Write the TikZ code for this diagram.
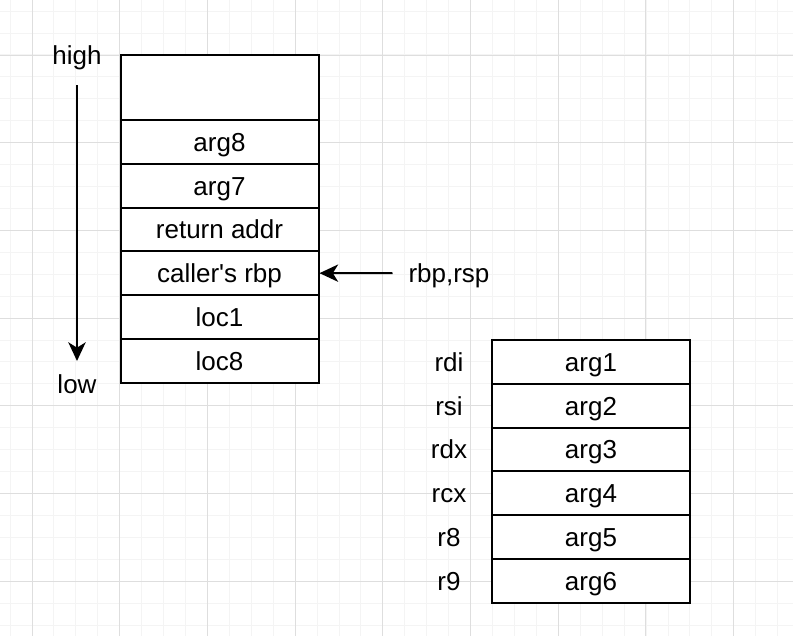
\documentclass[tikz,border=0pt]{standalone}
\usepackage{fontspec}
\setmainfont{Liberation Sans}[Ligatures=TeXReset]
\usepackage{xcolor}
\usetikzlibrary{arrows.meta,positioning}
\definecolor{GridMinor}{RGB}{244, 244, 244}
\definecolor{GridMajor}{RGB}{222, 222, 222}

\begin{document}
\begin{tikzpicture}[
      x=0.75pt, y=-0.75pt,
      every node/.style={font=\fontsize{19.5}{23}\selectfont, align=center, text height=14pt, text depth=0pt},
      cell/.style={rectangle, draw=black, line width=1.5pt, fill=white, minimum width=148.5pt, minimum height=32.85pt, inner sep=0pt},
      topcell/.style={cell, minimum height=49pt},
      pointer/.style={-{Stealth[length=14pt, width=13pt, inset=4pt]}, line width=1.5pt},
      minorgrid/.style={GridMinor, line width=0.75pt},
      majorgrid/.style={GridMajor, line width=0.75pt}
    ]
      \useasboundingbox (0,0) rectangle (793,636);

      % Background grid
      \foreach \i in {0,...,35} \draw[minorgrid] ({10.1+\i*21.93},0) -- ({10.1+\i*21.93},636);
      \foreach \i in {0,...,28} \draw[minorgrid] (0,{11.1+\i*21.93}) -- (793,{11.1+\i*21.93});
      \foreach \i in {0,...,8} \draw[majorgrid] ({32+\i*87.7},0) -- ({32+\i*87.7},636);
      \foreach \i in {0,...,6} \draw[majorgrid] (0,{55+\i*87.7}) -- (793,{55+\i*87.7});

      % Stack frame
      \node[topcell] (top) at (219.5, 87.5) {};
      \node[cell] (arg8) at (219.5, 141.9) {arg8};
      \node[cell] (arg7) at (219.5, 185.7) {arg7};
      \node[cell] (ret) at (219.5, 229.5) {return addr};
      \node[cell] (rbp) at (219.5, 273.3) {caller's rbp};
      \node[cell] (loc1) at (219.5, 317.1) {loc1};
      \node[cell] (loc8) at (219.5, 360.9) {loc8};

      % Direction
      \node (high) at (77, 54.7) {high};
      \node (low) at (77, 383.7) {low};
      \draw[pointer, shorten <=12.5pt, shorten >=6.5pt] (high) -- (low);

      % Frame pointer
      \node (fp) at (449, 273) {rbp,rsp};
      \draw[pointer, shorten <=8.5pt] (fp) -- (rbp);

      % Register arguments
      \node[cell] (arg1) at (591, 361.9) {arg1};
      \node[cell] (arg2) at (591, 405.7) {arg2};
      \node[cell] (arg3) at (591, 449.5) {arg3};
      \node[cell] (arg4) at (591, 493.3) {arg4};
      \node[cell] (arg5) at (591, 537.1) {arg5};
      \node[cell] (arg6) at (591, 580.9) {arg6};

      \node (rdi) at (449, 361.9) {rdi};
      \node (rsi) at (449, 405.7) {rsi};
      \node (rdx) at (449, 449.5) {rdx};
      \node (rcx) at (449, 493.3) {rcx};
      \node (r8) at (449, 537.1) {r8};
      \node (r9) at (449, 580.9) {r9};
    \end{tikzpicture}
\end{document}
